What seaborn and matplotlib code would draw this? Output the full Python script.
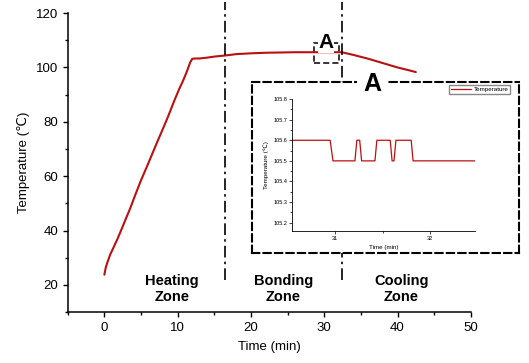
import numpy as np
import pandas as pd
import matplotlib
matplotlib.use("Agg")
import matplotlib.pyplot as plt
import matplotlib.ticker as mticker
from matplotlib.patches import Rectangle
import seaborn as sns

# ── data ────────────────────────────────────────────────
time_min = [0, 0.2, 0.5, 0.8, 1.2, 1.8, 2.5, 3.0, 3.5, 4.2, 5.0, 5.8, 6.5, 7.2,
            8.0, 8.7, 9.5, 10.2, 10.8, 11.3, 11.7, 12.0, 12.5, 13.0, 14.0, 15.0,
            16.5, 18.0, 20.0, 22.0, 24.0, 26.0, 28.0, 30.0, 31.0, 32.4, 34.0,
            36.0, 38.0, 40.0, 41.5, 42.5]
temp_c = [23.8, 26.5, 29.0, 31.2, 33.5, 37.0, 41.5, 44.8, 48.0, 53.0, 58.5, 63.5,
          68.0, 72.5, 77.5, 82.0, 87.5, 92.0, 95.5, 98.8, 101.8, 103.2, 103.3,
          103.3, 103.6, 104.0, 104.4, 104.9, 105.2, 105.4, 105.5, 105.6, 105.6,
          105.6, 105.6, 105.6, 104.6, 103.2, 101.6, 100.0, 99.0, 98.3]

zone_bounds = [16.5, 32.4]
zone_names = ["Heating\nZone", "Bonding\nZone", "Cooling\nZone"]
zone_label_x = [9.2, 24.4, 40.5]

# zoomed window "A": t0, t1, T0, T1
zoom_box = [28.6, 32.0, 101.8, 108.9]

ins_time = [30.55, 30.95, 30.98, 31.21, 31.23, 31.26, 31.28, 31.42, 31.44,
            31.58, 31.60, 31.62, 31.64, 31.80, 31.82, 32.47]
ins_temp = [105.6, 105.6, 105.5, 105.5, 105.6, 105.6, 105.5, 105.5, 105.6,
            105.6, 105.5, 105.5, 105.6, 105.6, 105.5, 105.5]

main_df = pd.DataFrame({"time": time_min, "temp": temp_c})
ins_df = pd.DataFrame({"time": ins_time, "temp": ins_temp})

# ── style ───────────────────────────────────────────────
sns.set_theme(style="ticks")
plt.rcParams["font.family"] = ["Liberation Sans", "DejaVu Sans"]
plt.rcParams.update({"text.color": "black", "axes.labelcolor": "black",
                     "xtick.color": "black", "ytick.color": "black"})
red = "#bb1010"

fig = plt.figure(figsize=(5.29, 3.63), dpi=100)
ax = fig.add_axes([0.128, 0.140, 0.762, 0.824])

sns.lineplot(data=main_df, x="time", y="temp", ax=ax, color=red, lw=1.5,
             sort=False, estimator=None)
ax.vlines(zone_bounds, 22, 124, colors="black", lw=1.2,
          linestyles=[(0, (7, 2.5, 1.5, 2.5))], clip_on=False)

for x, name in zip(zone_label_x, zone_names):
    ax.text(x, 18.5, name, ha="center", va="center", fontsize=10.5,
            fontweight="bold", linespacing=1.15)

ax.add_patch(Rectangle((zoom_box[0], zoom_box[2]), zoom_box[1] - zoom_box[0],
                       zoom_box[3] - zoom_box[2], fill=False, ec="black",
                       lw=1.1, ls=(0, (4, 2))))
ax.text((zoom_box[0] + zoom_box[1]) / 2, zoom_box[3] + 0.1, "A",
        ha="center", va="center", fontsize=15, fontweight="bold",
        bbox=dict(fc="white", ec="none", pad=0.3))

ax.set_xlim(-5, 50)
ax.set_ylim(10, 120)
ax.xaxis.set_major_locator(mticker.MultipleLocator(10))
ax.xaxis.set_minor_locator(mticker.MultipleLocator(5))
ax.yaxis.set_major_locator(mticker.FixedLocator([20, 40, 60, 80, 100, 120]))
ax.yaxis.set_minor_locator(mticker.MultipleLocator(10))
ax.tick_params(which="major", length=3.5, width=1, labelsize=9.5, color="black")
ax.tick_params(which="minor", length=2.5, width=1, color="black")
ax.spines["top"].set_visible(False)
ax.spines["right"].set_visible(False)
for s in ["left", "bottom"]:
    ax.spines[s].set_linewidth(1.1)
    ax.spines[s].set_color("black")
ax.set_xlabel("Time (min)", fontsize=9.5, labelpad=5)
ax.set_ylabel("Temperature (℃)", fontsize=9.5, labelpad=4)

# ── dashed frame for zoom A ─────────────────────────────
bx = fig.add_axes([0.476, 0.303, 0.505, 0.471])
bx.set_zorder(2)
bx.set_facecolor("white")
bx.set_xticks([])
bx.set_yticks([])
for s in bx.spines.values():
    s.set_linestyle((0, (3.5, 2)))
    s.set_linewidth(1.5)
    s.set_color("black")

fig.text(372 / 529, 1 - 84 / 363, "A", ha="center", va="center", fontsize=18,
         fontweight="bold", zorder=10,
         bbox=dict(fc="white", ec="none", boxstyle="square,pad=0.25"))

# ── inset ───────────────────────────────────────────────
ins = fig.add_axes([0.552, 0.364, 0.346, 0.363])
ins.set_zorder(3)
ins.patch.set_alpha(0)
sns.lineplot(data=ins_df, x="time", y="temp", ax=ins, color=red, lw=0.9,
             sort=False, estimator=None, label="Temperature")
ins.set_xlim(30.55, 32.47)
ins.set_ylim(105.16, 105.8)
ins.xaxis.set_major_locator(mticker.FixedLocator([31, 32]))
ins.xaxis.set_minor_locator(mticker.FixedLocator([31.5]))
ins.yaxis.set_major_locator(mticker.MultipleLocator(0.1))
ins.yaxis.set_minor_locator(mticker.MultipleLocator(0.05))
ins.yaxis.set_major_formatter(mticker.FormatStrFormatter("%.1f"))
ins.tick_params(which="major", length=2, width=0.5, labelsize=4, pad=1.5,
                color="black")
ins.tick_params(which="minor", length=1.2, width=0.5, color="black")
ins.spines["top"].set_visible(False)
ins.spines["right"].set_visible(False)
for s in ["left", "bottom"]:
    ins.spines[s].set_linewidth(0.6)
    ins.spines[s].set_color("black")
ins.set_xlabel("Time (min)", fontsize=4.5, labelpad=3)
ins.set_ylabel("Temperature (℃)", fontsize=4.5, labelpad=3)
ins.legend(loc="upper right", bbox_to_anchor=(513 / 529, 1 - 82 / 363),
           bbox_transform=fig.transFigure, fontsize=4.5, fancybox=False,
           edgecolor="#888888", framealpha=1, handlelength=3.2,
           borderpad=0.25, handletextpad=0.4)

fig.savefig("out.png", dpi=100)
